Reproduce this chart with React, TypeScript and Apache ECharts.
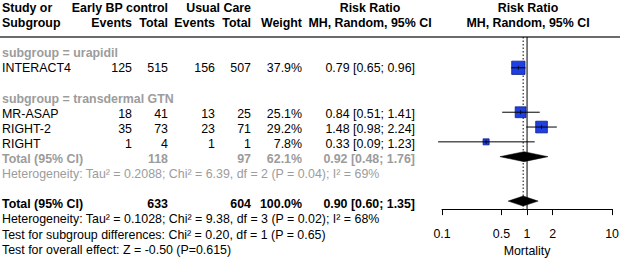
import React, { useEffect, useRef } from "react";
import * as echarts from "echarts";

// ---- study-level data ----
const studies = ["INTERACT4", "MR-ASAP", "RIGHT-2", "RIGHT"];
const studyGroup = [0, 1, 1, 1];
const eventsEarly = [125, 18, 35, 1];
const totalEarly = [515, 41, 73, 4];
const eventsUsual = [156, 13, 23, 1];
const totalUsual = [507, 25, 71, 1];
const weights = [37.9, 25.1, 29.2, 7.8];
const riskRatio = [0.79, 0.84, 1.48, 0.33];
const ciLower = [0.65, 0.51, 0.98, 0.09];
const ciUpper = [0.96, 1.41, 2.24, 1.23];

// ---- subgroup pooled results ----
const subgroups = ["urapidil", "transdermal GTN"];
const subgroupTotalEarly = [515, 118];
const subgroupTotalUsual = [507, 97];
const subgroupWeight = [37.9, 62.1];
const subgroupRR = [0.79, 0.92];
const subgroupLower = [0.65, 0.48];
const subgroupUpper = [0.96, 1.76];
const subgroupHeterogeneity = [
  "",
  "Heterogeneity: Tau² = 0.2088; Chi² = 6.39, df = 2 (P = 0.04); I² = 69%",
];

// ---- overall pooled result ----
const overallTotals = [633, 604];
const overallWeight = 100.0;
const overallRR = [0.9, 0.6, 1.35]; // estimate, lower, upper
const overallNotes = [
  "Heterogeneity: Tau² = 0.1028; Chi² = 9.38, df = 3 (P = 0.02); I² = 68%",
  "Test for subgroup differences: Chi² = 0.20, df = 1 (P = 0.65)",
  "Test for overall effect: Z = -0.50 (P=0.615)",
];

const axisTicks = [0.1, 0.5, 1, 2, 10];

// ---- layout ----
const W = 622;
const H = 262;
const ROW0 = 8; // pixel centre of row 0
const ROW_H = 15.1;
const LAST_ROW = 16;
const HEADER_RULE = 1.92; // row position of the rule under the header
const AXIS_ROW = 13.54; // row position of the x axis line
const PLOT_LEFT = 442;
const PLOT_WIDTH = 172;
const FS = 12.4;
const FONT = '"Liberation Sans", Arial, Helvetica, sans-serif';
const GRAY = "#9c9c9c";
const BLACK = "#000000";
const SQUARE_FILL = "#1f3fe0";
const SQUARE_EDGE = "#0c1f8c";
const SQUARE_SCALE = 2.16;
const DIAMOND_HALF = 5;

const COL = {
  study: 2,
  evE: 132,
  nE: 168,
  evU: 215,
  nU: 251,
  weight: 302,
  ci: 415,
  ciHead: 370,
  plotHead: 528,
};

type Align = "left" | "right" | "center";
type Cell = { x: number; row: number; text: string; align: Align; bold?: boolean; color?: string };

const fmtCI = (e: number, l: number, u: number) =>
  `${e.toFixed(2)} [${l.toFixed(2)}; ${u.toFixed(2)}]`;
const lg = (v: number) => Math.log10(v);

const cells: Cell[] = [];
const studyRows: number[] = [];
const diamonds: { row: number; est: number; lo: number; hi: number }[] = [];

// header
cells.push({ x: COL.study, row: 0, text: "Study or", align: "left", bold: true });
cells.push({ x: COL.nE, row: 0, text: "Early BP control", align: "right", bold: true });
cells.push({ x: COL.nU, row: 0, text: "Usual Care", align: "right", bold: true });
cells.push({ x: COL.ciHead, row: 0, text: "Risk Ratio", align: "center", bold: true });
cells.push({ x: COL.plotHead, row: 0, text: "Risk Ratio", align: "center", bold: true });
cells.push({ x: COL.study, row: 1, text: "Subgroup", align: "left", bold: true });
cells.push({ x: COL.evE, row: 1, text: "Events", align: "right", bold: true });
cells.push({ x: COL.nE, row: 1, text: "Total", align: "right", bold: true });
cells.push({ x: COL.evU, row: 1, text: "Events", align: "right", bold: true });
cells.push({ x: COL.nU, row: 1, text: "Total", align: "right", bold: true });
cells.push({ x: COL.weight, row: 1, text: "Weight", align: "right", bold: true });
cells.push({ x: COL.ciHead, row: 1, text: "MH, Random, 95% CI", align: "center", bold: true });
cells.push({ x: COL.plotHead, row: 1, text: "MH, Random, 95% CI", align: "center", bold: true });

let row = 3;
subgroups.forEach((name, g) => {
  cells.push({ x: COL.study, row, text: `subgroup = ${name}`, align: "left", bold: true, color: GRAY });
  row++;
  const members = studies.map((_, i) => i).filter((i) => studyGroup[i] === g);
  members.forEach((i) => {
    studyRows[i] = row;
    cells.push({ x: COL.study, row, text: studies[i], align: "left" });
    cells.push({ x: COL.evE, row, text: String(eventsEarly[i]), align: "right" });
    cells.push({ x: COL.nE, row, text: String(totalEarly[i]), align: "right" });
    cells.push({ x: COL.evU, row, text: String(eventsUsual[i]), align: "right" });
    cells.push({ x: COL.nU, row, text: String(totalUsual[i]), align: "right" });
    cells.push({ x: COL.weight, row, text: `${weights[i].toFixed(1)}%`, align: "right" });
    cells.push({ x: COL.ci, row, text: fmtCI(riskRatio[i], ciLower[i], ciUpper[i]), align: "right" });
    row++;
  });
  if (members.length > 1) {
    const t = { bold: true, color: GRAY };
    cells.push({ x: COL.study, row, text: "Total (95% CI)", align: "left", ...t });
    cells.push({ x: COL.nE, row, text: String(subgroupTotalEarly[g]), align: "right", ...t });
    cells.push({ x: COL.nU, row, text: String(subgroupTotalUsual[g]), align: "right", ...t });
    cells.push({ x: COL.weight, row, text: `${subgroupWeight[g].toFixed(1)}%`, align: "right", ...t });
    cells.push({ x: COL.ci, row, text: fmtCI(subgroupRR[g], subgroupLower[g], subgroupUpper[g]), align: "right", ...t });
    diamonds.push({ row, est: subgroupRR[g], lo: subgroupLower[g], hi: subgroupUpper[g] });
    row++;
    cells.push({ x: COL.study, row, text: subgroupHeterogeneity[g], align: "left", color: GRAY });
    row++;
  }
  row++;
});

// overall
cells.push({ x: COL.study, row, text: "Total (95% CI)", align: "left", bold: true });
cells.push({ x: COL.nE, row, text: String(overallTotals[0]), align: "right", bold: true });
cells.push({ x: COL.nU, row, text: String(overallTotals[1]), align: "right", bold: true });
cells.push({ x: COL.weight, row, text: `${overallWeight.toFixed(1)}%`, align: "right", bold: true });
cells.push({ x: COL.ci, row, text: fmtCI(overallRR[0], overallRR[1], overallRR[2]), align: "right", bold: true });
diamonds.push({ row, est: overallRR[0], lo: overallRR[1], hi: overallRR[2] });
row++;
overallNotes.forEach((note) => {
  cells.push({ x: COL.study, row, text: note, align: "left" });
  row++;
});

export default function App() {
  const ref = useRef<HTMLDivElement>(null);

  useEffect(() => {
    if (!ref.current) return;
    const chart = echarts.init(ref.current, undefined, { renderer: "svg" });

    const plotTop = ROW0 + ROW_H * HEADER_RULE;
    const plotHeight = ROW_H * (AXIS_ROW - HEADER_RULE);

    const option: any = {
      animation: false,
      backgroundColor: "#ffffff",
      textStyle: { fontFamily: FONT },
      grid: [
        { left: 0, top: ROW0 - ROW_H * 0.5, width: W, height: ROW_H * (LAST_ROW + 1) },
        { left: PLOT_LEFT, top: plotTop, width: PLOT_WIDTH, height: plotHeight },
      ],
      xAxis: [
        { gridIndex: 0, type: "value", min: 0, max: W, show: false },
        {
          gridIndex: 1,
          type: "value",
          min: lg(axisTicks[0]),
          max: lg(axisTicks[axisTicks.length - 1]),
          splitLine: { show: false },
          axisLine: { show: true, onZero: false, lineStyle: { color: BLACK, width: 1 } },
          axisTick: {
            show: true,
            length: 6,
            customValues: axisTicks.map(lg),
            lineStyle: { color: BLACK, width: 1 },
          },
          axisLabel: {
            customValues: axisTicks.map(lg),
            margin: 19,
            color: BLACK,
            fontSize: FS,
            fontFamily: FONT,
            formatter: (v: number) => String(+Math.pow(10, v).toPrecision(2)),
          },
          name: "Mortality",
          nameLocation: "middle",
          nameGap: 35,
          nameTextStyle: { color: BLACK, fontSize: FS, fontFamily: FONT },
        },
      ],
      yAxis: [
        { gridIndex: 0, type: "value", inverse: true, min: -0.5, max: LAST_ROW + 0.5, show: false },
        { gridIndex: 1, type: "value", inverse: true, min: HEADER_RULE, max: AXIS_ROW, show: false },
      ],
      series: [
        // rule under the column headers
        {
          type: "custom",
          xAxisIndex: 0,
          yAxisIndex: 0,
          clip: false,
          silent: true,
          data: [[0, HEADER_RULE]],
          renderItem: (params: any, api: any) => {
            const cs = params.coordSys;
            const p = api.coord([0, api.value(1)]);
            return {
              type: "line",
              shape: { x1: cs.x, y1: p[1], x2: cs.x + cs.width - 2, y2: p[1] },
              style: { stroke: "#3a3a3a", lineWidth: 1.3 },
            };
          },
        },
        // table text
        {
          type: "custom",
          xAxisIndex: 0,
          yAxisIndex: 0,
          clip: false,
          silent: true,
          data: cells.map((c) => [c.x, c.row]),
          renderItem: (params: any, api: any) => {
            const c = cells[params.dataIndex];
            const p = api.coord([c.x, c.row]);
            return {
              type: "text",
              x: p[0],
              y: p[1],
              style: {
                text: c.text,
                fill: c.color || BLACK,
                fontSize: FS,
                fontFamily: FONT,
                fontWeight: c.bold ? "bold" : "normal",
                textAlign: c.align,
                textVerticalAlign: "middle",
              },
            };
          },
        },
        // line of no effect (solid) and pooled estimate (dotted)
        {
          type: "custom",
          xAxisIndex: 1,
          yAxisIndex: 1,
          clip: false,
          silent: true,
          data: [
            [lg(1), 0],
            [lg(overallRR[0]), 1],
          ],
          renderItem: (params: any, api: any) => {
            const cs = params.coordSys;
            const x = api.coord([api.value(0), HEADER_RULE])[0];
            const dotted = api.value(1) === 1;
            return {
              type: "line",
              shape: { x1: x, y1: cs.y, x2: x, y2: cs.y + cs.height },
              style: {
                stroke: BLACK,
                lineWidth: 1,
                lineDash: dotted ? [1.5, 2] : null,
              },
            };
          },
        },
        // study squares with confidence intervals
        {
          type: "custom",
          xAxisIndex: 1,
          yAxisIndex: 1,
          clip: false,
          silent: true,
          encode: { x: 0, y: 1 },
          data: studies.map((_, i) => [
            lg(riskRatio[i]),
            studyRows[i],
            lg(ciLower[i]),
            lg(ciUpper[i]),
            SQUARE_SCALE * Math.sqrt(weights[i]),
          ]),
          renderItem: (params: any, api: any) => {
            const r = api.value(1);
            const c = api.coord([api.value(0), r]);
            const lo = api.coord([api.value(2), r]);
            const hi = api.coord([api.value(3), r]);
            const s = api.value(4);
            return {
              type: "group",
              children: [
                {
                  type: "rect",
                  shape: { x: c[0] - s / 2, y: c[1] - s / 2, width: s, height: s },
                  style: { fill: SQUARE_FILL, stroke: SQUARE_EDGE, lineWidth: 0.8 },
                },
                {
                  type: "line",
                  shape: { x1: lo[0], y1: c[1], x2: hi[0], y2: c[1] },
                  style: { stroke: BLACK, lineWidth: 1 },
                },
                {
                  type: "line",
                  shape: { x1: c[0], y1: c[1] - 2, x2: c[0], y2: c[1] + 2 },
                  style: { stroke: BLACK, lineWidth: 0.8 },
                },
              ],
            };
          },
        },
        // pooled diamonds
        {
          type: "custom",
          xAxisIndex: 1,
          yAxisIndex: 1,
          clip: false,
          silent: true,
          encode: { x: 0, y: 1 },
          data: diamonds.map((d) => [lg(d.est), d.row, lg(d.lo), lg(d.hi)]),
          renderItem: (params: any, api: any) => {
            const r = api.value(1);
            const c = api.coord([api.value(0), r]);
            const lo = api.coord([api.value(2), r]);
            const hi = api.coord([api.value(3), r]);
            return {
              type: "polygon",
              shape: {
                points: [
                  [lo[0], c[1]],
                  [c[0], c[1] - DIAMOND_HALF],
                  [hi[0], c[1]],
                  [c[0], c[1] + DIAMOND_HALF],
                ],
              },
              style: { fill: BLACK, stroke: BLACK, lineWidth: 0.5 },
            };
          },
        },
      ],
    };

    chart.setOption(option);
    return () => chart.dispose();
  }, []);

  return (
    <div
      ref={ref}
      style={{ position: "fixed", left: 0, top: 0, width: W, height: H, background: "#fff" }}
    />
  );
}
